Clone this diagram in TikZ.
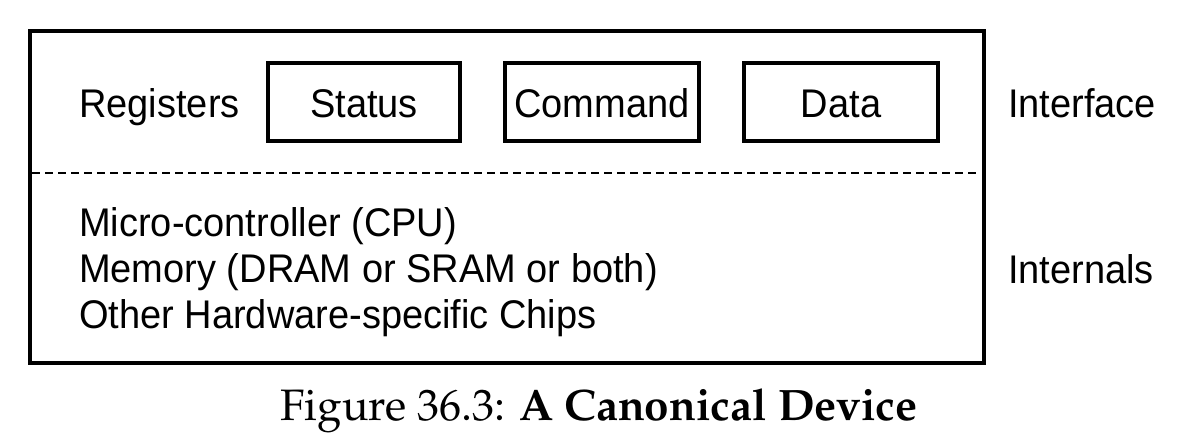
\documentclass[tikz,border=0pt]{standalone}
\usepackage[T1]{fontenc}
\usepackage{fontspec}
\setmainfont{Liberation Sans}[FakeStretch=0.95]
\newcommand\capfont{\fontencoding{T1}\fontfamily{ppl}\selectfont}
\begin{document}
\begin{tikzpicture}[x=1pt,y=-1pt,
  lbl/.style={inner sep=0pt, font=\fontsize{40}{46}\selectfont},
  reg/.style={draw, line width=4pt, inner sep=0pt, minimum height=78pt, font=\fontsize{40}{46}\selectfont},
  sep/.style={line width=2pt, dash pattern=on 7.5pt off 5.5pt}]
\useasboundingbox (0,0) rectangle (1181,437);
\node[draw, line width=4pt, inner sep=0pt, minimum width=954pt, minimum height=332pt] (dev) at (507,197) {};
\coordinate (dl) at (32,173);
\coordinate (dr) at (976,173);
\draw[sep] (dl) -- (dr);
\node[reg, minimum width=192pt] (status) at (364,101.5) {};
\node[reg, minimum width=194pt] (command) at (602,101.5) {};
\node[reg, minimum width=194pt] (data) at (841,101.5) {};
\node[lbl, anchor=base] at (364,117) {Status};
\node[lbl, anchor=base] at (602,117) {Command};
\node[lbl, anchor=base] at (841,117) {Data};
\node[lbl, anchor=base west] (registers) at (79,117) {Registers};
\node[lbl, anchor=base west] (interface) at (1008,117) {Interface};
\node[lbl, anchor=base west] (internals) at (1008,283) {Internals};
\node[lbl, anchor=base west] (cpu) at (79,236) {Micro-controller (CPU)};
\node[lbl, anchor=base west] (mem) at (79,282) {Memory (DRAM or SRAM or both)};
\node[lbl, anchor=base west] (chips) at (79,328) {Other Hardware-specific Chips};
\node[inner sep=0pt, anchor=base, font=\capfont\fontsize{44}{50}\selectfont] (caption) at (599,420) {Figure 36.3: \textbf{A Canonical Device}};
\end{tikzpicture}
\end{document}
